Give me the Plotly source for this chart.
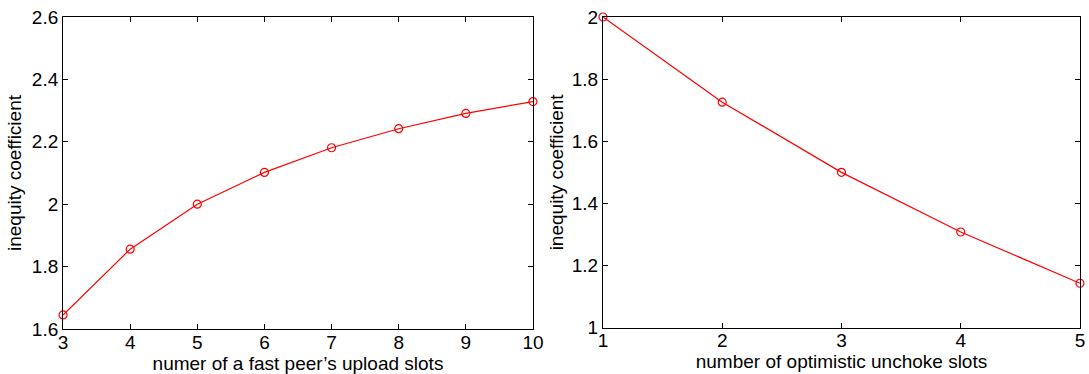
import plotly.graph_objects as go

# Left panel data
slots_x = [3, 4, 5, 6, 7, 8, 9, 10]
slots_y = [1.645, 1.856, 2.0, 2.102, 2.181, 2.242, 2.291, 2.329]

# Right panel data
unchoke_x = [1, 2, 3, 4, 5]
unchoke_y = [2.0, 1.726, 1.50, 1.308, 1.143]

FONT = "Liberation Sans, Arial, Helvetica, sans-serif"
RED = "#ff0000"

fig = go.Figure()
fig.add_trace(go.Scatter(x=slots_x, y=slots_y, mode="lines+markers",
                         line=dict(color=RED, width=1.2),
                         marker=dict(symbol="circle-open", size=8, color=RED, line=dict(width=1.2)),
                         xaxis="x", yaxis="y", showlegend=False, cliponaxis=False))
fig.add_trace(go.Scatter(x=unchoke_x, y=unchoke_y, mode="lines+markers",
                         line=dict(color=RED, width=1.2),
                         marker=dict(symbol="circle-open", size=8, color=RED, line=dict(width=1.2)),
                         xaxis="x2", yaxis="y2", showlegend=False, cliponaxis=False))

axis_common = dict(showgrid=False, zeroline=False, showline=True, linecolor="black", linewidth=1,
                   mirror="ticks", ticks="inside", ticklen=5, tickcolor="black", tickwidth=1,
                   automargin=False,
                   tickfont=dict(family=FONT, size=19, color="black"))
TFONT = dict(size=19, family=FONT, color="black")

fig.update_layout(
    width=1089, height=374,
    margin=dict(l=0, r=0, t=0, b=0, autoexpand=False),
    paper_bgcolor="white", plot_bgcolor="white",
    font=dict(family=FONT, color="black"),
    xaxis=dict(domain=[0.0579, 0.4894], range=[3, 10], tick0=3, dtick=1, anchor="y",
               ticklabelstandoff=-4,
               title=dict(text="numer of a fast peer\u2019s upload slots", font=TFONT, standoff=3),
               **axis_common),
    yaxis=dict(domain=[0.1203, 0.9545], range=[1.6, 2.6], tick0=1.6, dtick=0.2, anchor="x",
               title=dict(text="inequity coefficient", font=TFONT, standoff=5),
               **axis_common),
    xaxis2=dict(domain=[0.5537, 0.9917], range=[1, 5], tick0=1, dtick=1, anchor="y2",
                ticklabelstandoff=-4,
                title=dict(text="number of optimistic unchoke slots", font=TFONT, standoff=3),
                **axis_common),
    yaxis2=dict(domain=[0.1238, 0.9545], range=[1, 2], tick0=1, dtick=0.2, anchor="x2",
                title=dict(text="inequity coefficient", font=TFONT, standoff=3),
                **axis_common),
)

fig.write_html("out.html")
